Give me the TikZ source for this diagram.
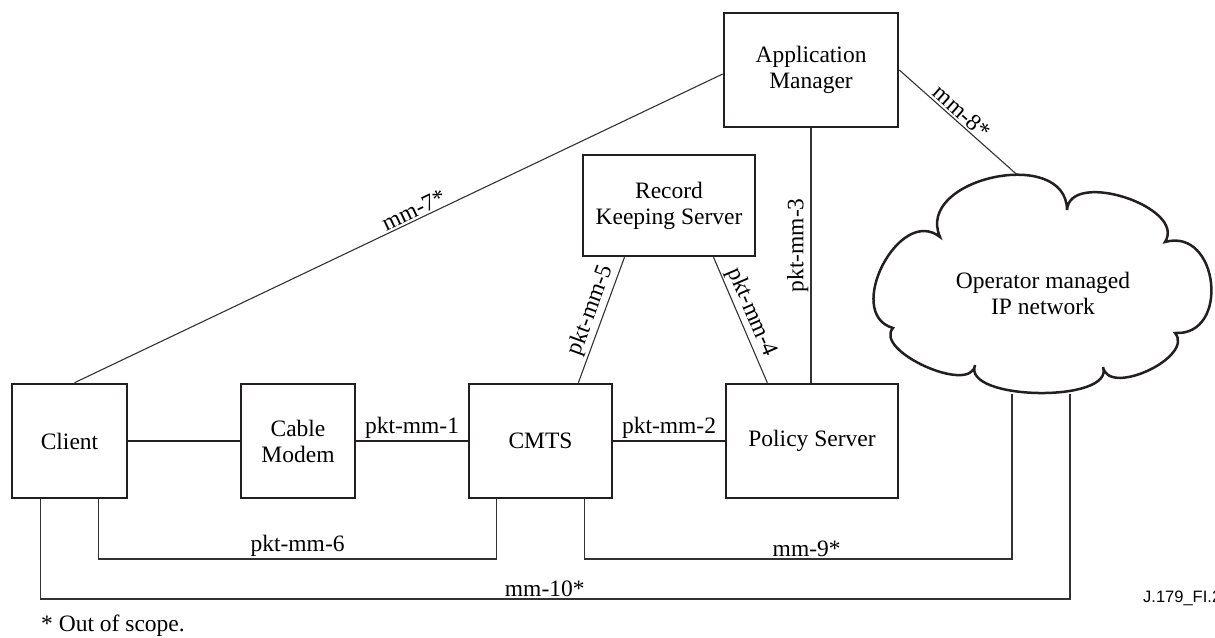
\documentclass[tikz,border=0pt]{standalone}
\usepackage{fontspec}
\setmainfont{Liberation Serif}
\newfontfamily\arialfont{Liberation Sans}
\usetikzlibrary{calc}
\definecolor{ink}{RGB}{35,31,32}
\definecolor{linegray}{RGB}{50,50,50}
\begin{document}
\begin{tikzpicture}[x=1pt,y=-1pt,
  font=\fontsize{23.5}{26}\selectfont,
  box/.style={draw=ink, line width=2.6pt, inner sep=0pt, align=center, fill=white},
  thinline/.style={draw=linegray, line width=1.1pt},
  thickline/.style={draw=ink, line width=2pt},
  cloudline/.style={draw=ink, line width=2.5pt, fill=white},
  lbl/.style={inner sep=2pt}]
\useasboundingbox (0,0) rectangle (1215,637);

% boxes
\node[box, minimum width=115pt, minimum height=114pt] (client) at (69.5,441) {Client};
\node[box, minimum width=114pt, minimum height=114pt] (cm) at (298,441) {Cable\\Modem};
\node[box, minimum width=143pt, minimum height=114pt] (cmts) at (540.5,441) {CMTS};
\node[box, minimum width=172pt, minimum height=114pt] (ps) at (812,441) {Policy Server};
\node[box, minimum width=172pt, minimum height=101pt] (rks) at (669,205.5) {Record\\Keeping Server};
\node[box, minimum width=174pt, minimum height=114pt] (am) at (811,70) {Application\\Manager};

% helper coordinates
\coordinate (rksA) at ($(rks.south west)!0.245!(rks.south east)$);
\coordinate (rksB) at ($(rks.south west)!0.755!(rks.south east)$);
\coordinate (cmtsT) at ($(cmts.north west)!0.76!(cmts.north east)$);
\coordinate (psT) at ($(ps.north west)!0.244!(ps.north east)$);
\coordinate (clA) at ($(client.south west)!0.25!(client.south east)$);
\coordinate (clB) at ($(client.south west)!0.75!(client.south east)$);
\coordinate (cmtsA) at ($(cmts.south west)!0.196!(cmts.south east)$);
\coordinate (cmtsB) at ($(cmts.south west)!0.80!(cmts.south east)$);
\coordinate (clTop) at ($(client.north)+(5,0)$);
\coordinate (amW) at ($(am.west)+(0,4)$);
\coordinate (psN) at (am.south |- ps.north);
\coordinate (ct) at (1023,180);
\coordinate (cb1) at (1012,394);
\coordinate (cb2) at (1070,394);
\coordinate (y1) at (0,559);
\coordinate (y2) at (0,599);

% horizontal links
\draw[thickline] (client.east) -- (cm.west);
\draw[thickline] (cm.east) -- node[above, lbl] {pkt-mm-1} (cmts.west);
\draw[thickline] (cmts.east) -- node[above, lbl] {pkt-mm-2} (ps.west);

% diagonal / vertical links
\draw[thinline] (clTop) -- node[pos=0.53, sloped, above, lbl] {mm-7*} (amW);
\draw[thinline] (am.east) -- node[pos=0.45, sloped, above, lbl] {mm-8*} (ct);
\draw[thinline] (cmtsT) -- node[pos=0.54, sloped, above, lbl] {pkt-mm-5} (rksA);
\draw[thinline] (rksB) -- node[pos=0.48, sloped, above, lbl] {pkt-mm-4} (psT);
\draw[thinline] (am.south) -- node[pos=0.46, rotate=90, anchor=south, lbl] {pkt-mm-3} (psN);

% bottom links
\draw[thinline] (clB) -- (clB |- y1) -- node[above, lbl] {pkt-mm-6} (cmtsA |- y1) -- (cmtsA);
\draw[thinline] (cmtsB) -- (cmtsB |- y1) -- node[pos=0.52, above, lbl] {mm-9*} (cb1 |- y1) -- (cb1);
\draw[thinline] (clA) -- (clA |- y2) -- node[pos=0.49, above, lbl] {mm-10*} (cb2 |- y2) -- (cb2);

% cloud
\draw[cloudline] (893,328)
  .. controls (843.2,313.8) and (899.6,204.6) .. (940,237)
  .. controls (914.2,178.1) and (1066.6,145.7) .. (1067,210)
  .. controls (1069.6,168.8) and (1187.2,207.2) .. (1165,242)
  .. controls (1218.7,226.9) and (1230.7,336.1) .. (1175,333)
  .. controls (1195,356.7) and (1108.6,397.5) .. (1103,367)
  .. controls (1115.2,403.2) and (961.6,400.8) .. (975,365)
  .. controls (971.3,395.1) and (872.9,350.7) .. cycle;
\node[align=center, inner sep=0pt] (net) at (1043,293) {Operator managed\\IP network};

% notes
\node[anchor=base west, inner sep=0pt] (note) at (41,631) {* Out of scope.};
\node[anchor=base west, inner sep=0pt, font=\arialfont\fontsize{16.5}{18}\selectfont] (fig) at (1143,602) {J.179\_FI.2};
\end{tikzpicture}
\end{document}
